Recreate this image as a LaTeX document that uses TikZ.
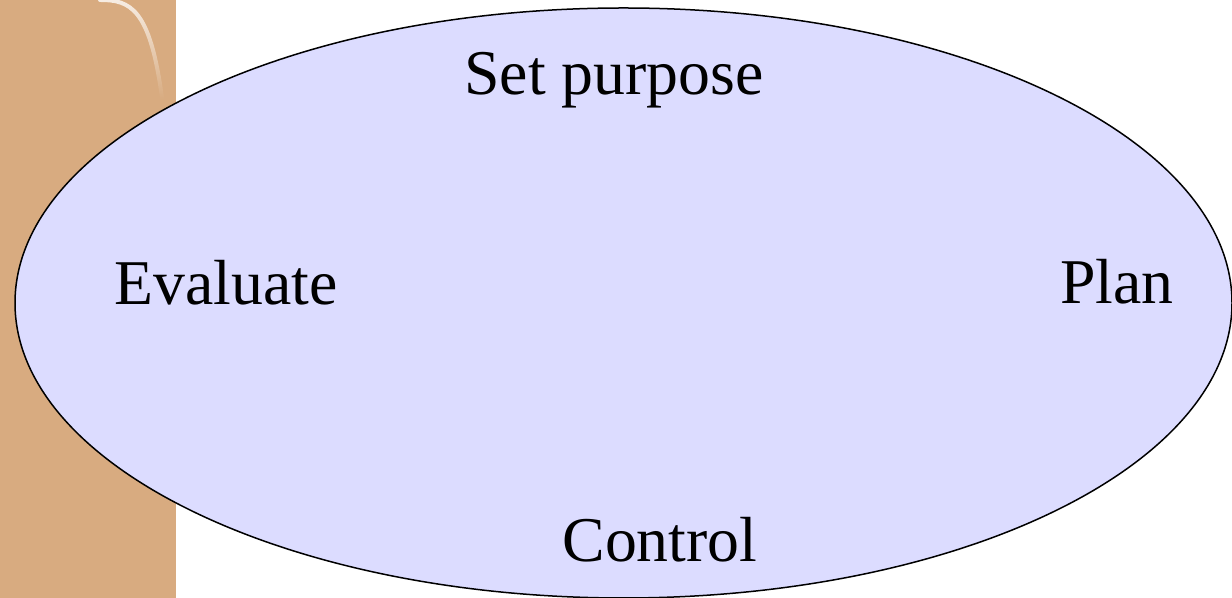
\documentclass[tikz,border=0pt]{standalone}
\usepackage{fontspec}
\setmainfont{Liberation Serif}
\usetikzlibrary{fadings}
\definecolor{tanbar}{HTML}{D8AB80}
\definecolor{lav}{HTML}{DCDCFF}
\tikzset{
  lbl/.style={anchor=base, inner sep=0pt, font=\fontsize{64}{70}\selectfont},
}
\begin{document}
\begin{tikzpicture}[x=1bp,y=1bp]
\useasboundingbox (0,0) rectangle (1232,598);
\clip (0,0) rectangle (1232,598);
\fill[tanbar] (0,0) rectangle (176,598);
\draw[white, line width=4bp, line cap=round, opacity=0.8, path fading=south]
  (100,598) .. controls (130,598) and (150,590) .. (162,500);
\draw[black, line width=1.5bp, fill=lav] (623.5,295) ellipse [x radius=608.5, y radius=295];
\node[lbl] (set) at (614,503) {Set purpose};
\node[lbl] (eval) at (226,293) {Evaluate};
\node[lbl] (plan) at (1117,294) {Plan};
\node[lbl] (ctrl) at (660,36) {Control};
\end{tikzpicture}
\end{document}
